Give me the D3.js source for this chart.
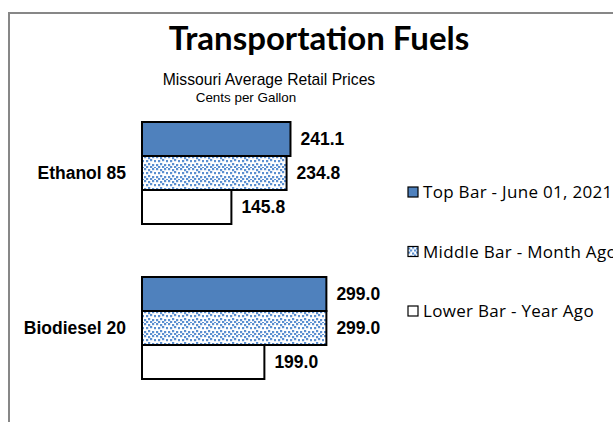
<!DOCTYPE html>
<html>
<head>
<meta charset="utf-8">
<script src="https://cdn.jsdelivr.net/npm/d3@7"></script>
<style>
	body { margin: 0; background: #fff; }
	svg { display: block; }
</style>
</head>
<body>
<svg id="chart" width="613" height="422"></svg>
<script>
// chart data
var categories = ["Ethanol 85", "Biodiesel 20"];
var seriesNames = ["Top Bar - June 01, 2021", "Middle Bar - Month Ago", "Lower Bar - Year Ago"];
var topBar = [241.1, 299.0];
var middleBar = [234.8, 299.0];
var lowerBar = [145.8, 199.0];

var svg = d3.select("#chart");
var blue = "#4f81bd";
var sans = "'Liberation Sans', Arial, sans-serif";

// confetti pattern for the month-ago bars
var defs = svg.append("defs");
var pat = defs.append("pattern")
	.attr("id", "confetti")
	.attr("patternUnits", "userSpaceOnUse")
	.attr("width", 12)
	.attr("height", 12);
pat.append("rect").attr("width", 12).attr("height", 12).attr("fill", "#fff");
[[0, 0], [4, 1], [8, 0], [2, 4], [6, 3], [10, 4], [0, 8], [4, 7], [8, 8], [2, 10], [6, 10], [10, 11]].forEach(function(p) {
	pat.append("rect").attr("x", p[0]).attr("y", p[1]).attr("width", 2.2).attr("height", 2.2).attr("fill", "#5b8fd0");
});

// outer frame (runs off the right and bottom edges)
svg.append("path")
	.attr("d", "M9,430 L9,13 L620,13")
	.attr("fill", "none")
	.attr("stroke", "#878787")
	.attr("stroke-width", 2);

// titles
svg.append("text")
	.attr("x", 319).attr("y", 50)
	.attr("text-anchor", "middle")
	.style("font-family", "Lato, 'Open Sans', sans-serif")
	.style("font-weight", "bold")
	.style("font-size", "33px")
	.text("Transportation Fuels");
svg.append("text")
	.attr("x", 269).attr("y", 85)
	.attr("text-anchor", "middle")
	.style("font-family", sans)
	.style("font-size", "15.7px")
	.text("Missouri Average Retail Prices");
svg.append("text")
	.attr("x", 246).attr("y", 102)
	.attr("text-anchor", "middle")
	.style("font-family", sans)
	.style("font-size", "13.4px")
	.text("Cents per Gallon");

// scales
var x = d3.scaleLinear().domain([0, 400]).range([141, 389]);
var yGroup = d3.scaleBand().domain(categories).range([120, 430]);
var yBar = d3.scaleBand().domain([0, 1, 2]).range([2, 104]);

var series = [
	{ name: seriesNames[0], values: topBar, fill: blue },
	{ name: seriesNames[1], values: middleBar, fill: "url(#confetti)" },
	{ name: seriesNames[2], values: lowerBar, fill: "#fff" }
];

var groups = svg.selectAll(".group")
	.data(categories)
	.enter().append("g")
	.attr("class", "group")
	.attr("transform", function(d) { return "translate(0," + yGroup(d) + ")"; });

groups.each(function(cat, ci) {
	var g = d3.select(this);
	series.forEach(function(s, si) {
		var v = s.values[ci];
		g.append("rect")
			.attr("x", x(0) + 1)
			.attr("y", yBar(si))
			.attr("width", x(v) - x(0) - 1)
			.attr("height", yBar.bandwidth())
			.attr("fill", s.fill)
			.attr("stroke", "#000")
			.attr("stroke-width", 2);
		g.append("text")
			.attr("x", x(v) + 10)
			.attr("y", yBar(si) + yBar.bandwidth() / 2)
			.attr("dy", "0.35em")
			.style("font-family", sans)
			.style("font-weight", "bold")
			.style("font-size", "17.5px")
			.text(v.toFixed(1));
	});
	g.append("text")
		.attr("x", 126)
		.attr("y", yBar(1) + yBar.bandwidth() / 2)
		.attr("dy", "0.35em")
		.attr("text-anchor", "end")
		.style("font-family", sans)
		.style("font-weight", "bold")
		.style("font-size", "17.5px")
		.text(cat);
});

// legend
var legend = svg.selectAll(".legend")
	.data(series)
	.enter().append("g")
	.attr("class", "legend")
	.attr("transform", function(d, i) { return "translate(408," + (192 + i * 59.5) + ")"; });
legend.append("rect")
	.attr("x", 0).attr("y", -5)
	.attr("width", 10).attr("height", 10)
	.attr("fill", function(d) { return d.fill; })
	.attr("stroke", "#000")
	.attr("stroke-width", 1.2);
legend.append("text")
	.attr("x", 15)
	.attr("y", 0)
	.attr("dy", "0.36em")
	.style("font-family", "'Open Sans', Lato, sans-serif")
	.style("font-size", "17px")
	.style("letter-spacing", "0.3px")
	.text(function(d) { return d.name; });
</script>
</body>
</html>
